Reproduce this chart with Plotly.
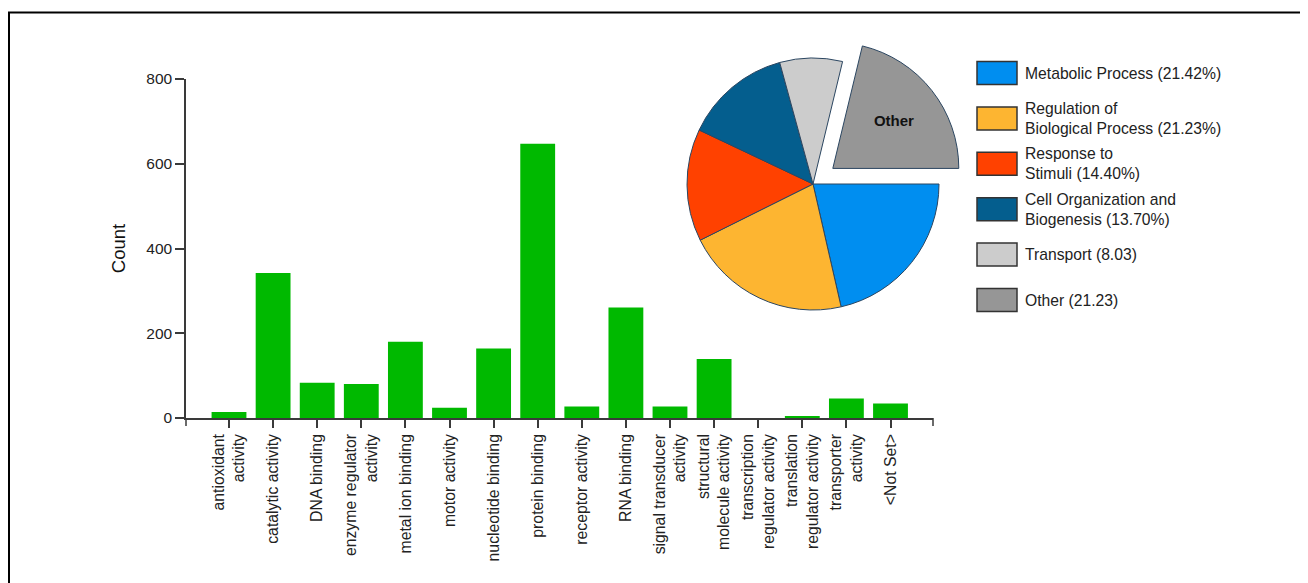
import plotly.graph_objects as go

# ---------------- data ----------------
categories = [
    "antioxidant<br>activity", "catalytic activity", "DNA binding",
    "enzyme regulator<br>activity", "metal ion binding", "motor activity",
    "nucleotide binding", "protein binding", "receptor activity", "RNA binding",
    "signal transducer<br>activity", "structural<br>molecule activity",
    "transcription<br>regulator activity", "translation<br>regulator activity",
    "transporter<br>activity", "&lt;Not Set&gt;",
]
counts = [14, 342, 83, 80, 180, 24, 164, 647, 27, 261, 27, 139, 0, 5, 46, 34]

pie_labels = ["Metabolic Process", "Regulation of Biological Process",
              "Response to Stimuli", "Cell Organization and Biogenesis",
              "Transport", "Other"]
pie_values = [21.42, 21.23, 14.40, 13.70, 8.03, 21.23]
pie_text = ["", "", "", "", "", "Other"]
pie_pull = [0, 0, 0, 0, 0, 0.2]
pie_colors = ["#008EF0", "#FDB531", "#FF4100", "#045E8E", "#CCCCCC", "#969696"]
legend_text = [
    "Metabolic Process (21.42%)",
    "Regulation of<br>Biological Process (21.23%)",
    "Response to<br>Stimuli (14.40%)",
    "Cell Organization and<br>Biogenesis (13.70%)",
    "Transport (8.03)",
    "Other (21.23)",
]
y_ticks = [0, 200, 400, 600, 800]

# ---------------- layout helpers ----------------
OFF = 8                      # page body margin
W, H = 1308 - OFF, 583 - OFF
def px(x):
    return (x - OFF) / W
def py(y):
    return 1 - (y - OFF) / H

FONT = "Arial, Liberation Sans, sans-serif"
AX = "#3a3a3a"

fig = go.Figure()

fig.add_trace(go.Bar(
    x=categories, y=counts, width=0.79,
    marker=dict(color="#00B900", line=dict(width=0)),
    showlegend=False, xaxis="x", yaxis="y",
))

# pie box so that r ~ 126 px with pull 0.2 (r = box / 2.4)
cx, cy, box = 813, 184, 302.4
fig.add_trace(go.Pie(
    labels=pie_labels, values=pie_values, text=pie_text,
    textinfo="text", textposition="inside", insidetextorientation="horizontal",
    textfont=dict(family=FONT, size=15, color="#111111", weight="bold"),
    pull=pie_pull, sort=False, direction="clockwise", rotation=90,
    marker=dict(colors=pie_colors, line=dict(color="#2b4661", width=1)),
    domain=dict(x=[px(cx - box / 2), px(cx + box / 2)],
                y=[py(cy + box / 2), py(cy - box / 2)]),
    showlegend=False, hoverinfo="label+value",
))

x0p, x1p = 186, 933
y0p, y1p = 418, 79
tick_spacing = 44.1
first_tick = 229
rng = [(x0p - first_tick) / tick_spacing, (x1p - first_tick) / tick_spacing]

shapes = []
annotations = []

# end ticks on the x axis
for xe in (0, 1):
    shapes.append(dict(type="line", xref="x domain", yref="paper",
                       x0=xe, x1=xe, y0=py(y0p), y1=py(y0p + 8),
                       line=dict(color=AX, width=1.5)))

# custom legend built from pie lists
row_y0, row_dy = 73, 45.4
for i, (lab, col) in enumerate(zip(legend_text, pie_colors)):
    yc = row_y0 + i * row_dy
    shapes.append(dict(type="rect", xref="paper", yref="paper",
                       x0=px(977), x1=px(1017), y0=py(yc + 11.5), y1=py(yc - 11.5),
                       fillcolor=col, line=dict(color="#333333", width=1.5)))
    annotations.append(dict(xref="paper", yref="paper", x=px(1023), y=py(yc),
                            xanchor="left", yanchor="middle", align="left",
                            showarrow=False, text=lab,
                            font=dict(family=FONT, size=15.7, color="#222222")))

# outer frame
shapes.append(dict(type="rect", xref="paper", yref="paper",
                   x0=px(9), x1=1.05, y0=-0.05, y1=py(12.5),
                   line=dict(color="#000000", width=2), fillcolor="rgba(0,0,0,0)"))

fig.update_layout(
    width=W, height=H,
    margin=dict(l=0, r=0, t=0, b=0),
    paper_bgcolor="white", plot_bgcolor="white",
    font=dict(family=FONT, size=15, color="#222222"),
    xaxis=dict(domain=[px(x0p), px(x1p)], range=rng, type="category",
               showline=True, linecolor=AX, linewidth=1.5,
               ticks="outside", ticklen=8, tickwidth=1.5, tickcolor=AX,
               tickangle=-90, showgrid=False, zeroline=False,
               tickfont=dict(family=FONT, size=15.8, color="#222222"),
               automargin=False, fixedrange=True),
    yaxis=dict(domain=[py(y0p), py(y1p)], range=[0, 800],
               tickvals=y_ticks,
               showline=True, linecolor=AX, linewidth=1.5,
               ticks="outside", ticklen=9, tickwidth=1.5, tickcolor=AX,
               showgrid=False, zeroline=False,
               tickfont=dict(family=FONT, size=15.5, color="#222222"),
               title=dict(text="Count", standoff=16,
                          font=dict(family=FONT, size=18.5, color="#111111")),
               automargin=False, fixedrange=True),
    shapes=shapes, annotations=annotations,
)

fig.write_html("out.html")
